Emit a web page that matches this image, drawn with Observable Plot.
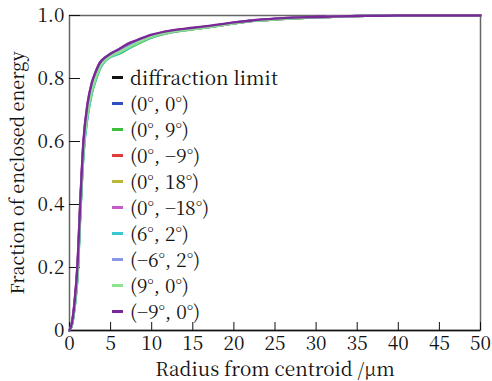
<!DOCTYPE html>
<html><head><meta charset="utf-8">
<script src="https://cdn.jsdelivr.net/npm/d3@7"></script>
<script src="https://cdn.jsdelivr.net/npm/@observablehq/plot@0.6"></script>
<style>
body{margin:0;background:#fff;}
#wrap{position:relative;width:492px;height:381px;}
svg text{font-family:'Noto Serif CJK SC' !important;}
#legend{position:absolute;left:112px;top:64px;font-size:19px;color:#111;line-height:26px;}
#legend .row{display:flex;align-items:center;white-space:nowrap;}
#legend .sw{display:inline-block;width:11px;height:3px;margin-right:7px;}
</style></head>
<body><div id="wrap"><div id="legend" style="font-family:'Noto Serif CJK SC'"></div></div>
<script>
const radius = [0,0.3,0.6,1.0,1.3,1.7,2.2,2.7,3.2,3.7,4.3,5,6,7,8.3,10,12.3,15,17.2,20,22.4,25,28,31,34,37,40,45,50];
const seriesNames = ["diffraction limit","(0°, 0°)","(0°, 9°)","(0°, −9°)","(0°, 18°)","(0°, −18°)","(6°, 2°)","(−6°, 2°)","(9°, 0°)","(−9°, 0°)"];
const seriesColors = ["#111111","#2f4fc0","#3cbf3c","#e03a3a","#b8b83a","#c45cc8","#3cc8d2","#8a96e6","#8fe08f","#7a2a98"];
const yDiffraction = [0,0.02,0.08,0.21,0.39,0.59,0.71,0.78,0.82,0.85,0.865,0.878,0.89,0.905,0.92,0.936,0.95,0.959,0.966,0.976,0.984,0.989,0.993,0.996,0.998,0.999,1,1,1];
const y0_0   = [0,0.02,0.07,0.19,0.37,0.57,0.69,0.76,0.80,0.835,0.857,0.872,0.884,0.898,0.915,0.933,0.948,0.957,0.964,0.975,0.983,0.988,0.992,0.995,0.998,0.999,1,1,1];
const y0_9   = [0,0.02,0.07,0.18,0.36,0.56,0.68,0.75,0.795,0.83,0.855,0.868,0.878,0.892,0.91,0.93,0.946,0.956,0.964,0.975,0.983,0.988,0.992,0.995,0.998,0.999,1,1,1];
const y0_m9  = [0,0.02,0.075,0.2,0.38,0.58,0.70,0.77,0.81,0.84,0.86,0.874,0.886,0.9,0.916,0.934,0.948,0.958,0.965,0.975,0.983,0.988,0.992,0.995,0.998,0.999,1,1,1];
const y0_18  = [0,0.02,0.07,0.19,0.37,0.57,0.69,0.76,0.80,0.835,0.856,0.87,0.882,0.896,0.913,0.932,0.947,0.957,0.964,0.975,0.983,0.988,0.992,0.995,0.998,0.999,1,1,1];
const y0_m18 = [0,0.025,0.085,0.22,0.40,0.60,0.72,0.785,0.82,0.85,0.866,0.878,0.892,0.908,0.922,0.938,0.951,0.96,0.967,0.977,0.985,0.99,0.994,0.996,0.998,0.999,1,1,1];
const y6_2   = [0,0.02,0.07,0.18,0.36,0.56,0.68,0.755,0.798,0.832,0.855,0.869,0.88,0.894,0.912,0.931,0.947,0.957,0.964,0.975,0.983,0.988,0.992,0.995,0.998,0.999,1,1,1];
const ym6_2  = [0,0.02,0.075,0.2,0.38,0.58,0.70,0.77,0.81,0.84,0.86,0.874,0.886,0.9,0.916,0.934,0.948,0.958,0.965,0.976,0.984,0.989,0.993,0.995,0.998,0.999,1,1,1];
const y9_0   = [0,0.02,0.07,0.19,0.37,0.57,0.69,0.76,0.802,0.836,0.857,0.871,0.883,0.897,0.914,0.933,0.948,0.957,0.964,0.975,0.983,0.988,0.992,0.995,0.998,0.999,1,1,1];
const ym9_0  = [0,0.025,0.085,0.22,0.40,0.60,0.72,0.785,0.822,0.85,0.866,0.879,0.893,0.909,0.923,0.939,0.952,0.961,0.968,0.978,0.985,0.99,0.994,0.996,0.998,0.999,1,1,1];
const seriesValues = [yDiffraction,y0_0,y0_9,y0_m9,y0_18,y0_m18,y6_2,ym6_2,y9_0,ym9_0];
const xTicks = [0,5,10,15,20,25,30,35,40,45,50];
const yTicks = [0,0.2,0.4,0.6,0.8,1.0];

const rows = [];
seriesNames.forEach((name,i)=>{
  radius.forEach((r,j)=>rows.push({series:name, r, f: seriesValues[i][j]}));
});

const font = "'Noto Serif CJK SC'";
const plot = Plot.plot({
  width: 492, height: 381,
  marginLeft: 69, marginRight: 12, marginTop: 15, marginBottom: 51,
  style: {fontFamily: font, fontSize: "19px", color: "#111", background: "#fff"},
  x: {domain: [0,50], label: null},
  y: {domain: [0,1], label: null},
  color: {domain: seriesNames, range: seriesColors},
  marks: [
    Plot.frame({stroke: "#666", strokeWidth: 1.5}),
    Plot.ruleY([0], {stroke: "#111", strokeWidth: 1.5}),
    Plot.axisX(xTicks, {tickSize: -8, text: null, stroke: "#111"}),
    Plot.axisX(xTicks, {tickSize: 0, tickPadding: 6, fontSize: 19, fontFamily: font, tickFormat: d => String(d)}),
    Plot.axisY(yTicks, {tickSize: -11, text: null, stroke: "#111"}),
    Plot.axisY(yTicks, {tickSize: 0, tickPadding: 5, fontSize: 19, fontFamily: font, tickFormat: d => d === 0 ? "0" : d.toFixed(1)}),
    Plot.line(rows, {x: "r", y: "f", z: "series", stroke: "series", strokeWidth: 2.4, curve: "monotone-x"}),
    Plot.text(["Radius from centroid /μm"], {frameAnchor: "bottom", dy: 45, fontSize: 19, fontFamily: font}),
    Plot.text(["Fraction of enclosed energy"], {frameAnchor: "left", textAnchor: "middle", dx: -51, rotate: -90, fontSize: 18, fontFamily: font})
  ]
});
document.getElementById("wrap").prepend(plot);
const leg = document.getElementById("legend");
seriesNames.forEach((n,i)=>{
  const d = document.createElement("div"); d.className="row";
  d.innerHTML = `<span class="sw" style="background:${seriesColors[i]}"></span><span>${n}</span>`;
  leg.appendChild(d);
});
</script></body></html>
